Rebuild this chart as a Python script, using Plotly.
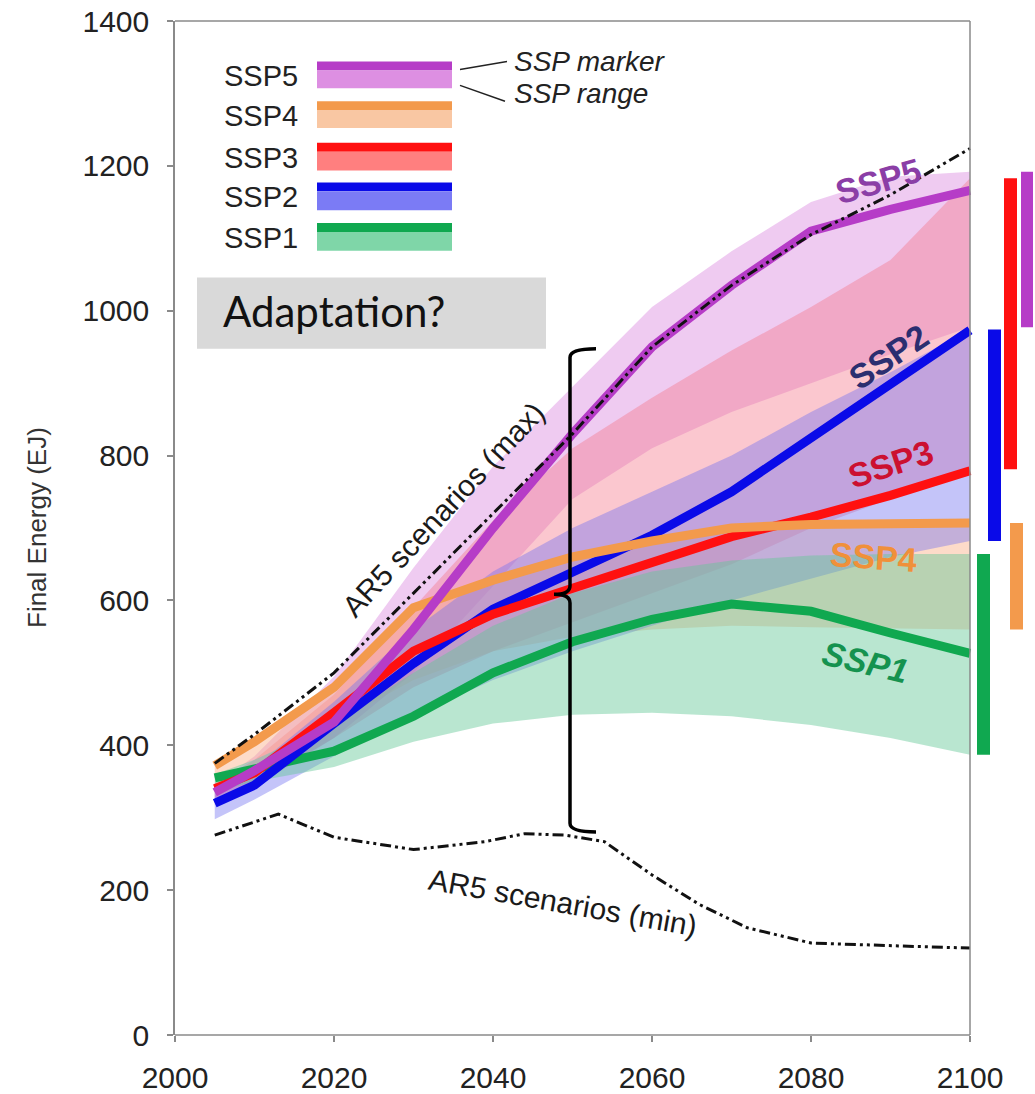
import plotly.graph_objects as go

# ---------------- data (EJ) ----------------
years = [2005, 2010, 2020, 2030, 2040, 2050, 2060, 2070, 2080, 2090, 2100]

ssp1_marker = [355, 368, 392, 440, 500, 543, 574, 595, 585, 555, 527]
ssp2_marker = [320, 345, 430, 513, 588, 640, 690, 750, 825, 900, 973]
ssp3_marker = [340, 362, 445, 530, 581, 617, 650, 688, 715, 745, 779]
ssp4_marker = [372, 405, 480, 590, 628, 660, 682, 700, 705, 706, 707]
ssp5_marker = [335, 365, 432, 560, 700, 830, 950, 1035, 1110, 1140, 1166]

ssp1_low = [335, 350, 370, 405, 430, 442, 445, 440, 428, 410, 387]
ssp1_high = [360, 380, 430, 500, 565, 610, 640, 655, 662, 664, 664]
ssp2_low = [298, 325, 385, 440, 490, 530, 565, 600, 630, 660, 682]
ssp2_high = [335, 370, 460, 560, 640, 700, 750, 800, 860, 915, 974]
ssp3_low = [325, 345, 410, 480, 530, 570, 610, 650, 700, 740, 781]
ssp3_high = [348, 380, 470, 590, 710, 810, 880, 945, 1005, 1070, 1183]
ssp4_low = [355, 380, 430, 490, 530, 550, 560, 565, 563, 561, 560]
ssp4_high = [375, 410, 485, 595, 635, 665, 688, 703, 707, 707, 707]
ssp5_low = [318, 342, 410, 500, 620, 740, 810, 860, 900, 940, 977]
ssp5_high = [345, 385, 495, 645, 785, 895, 1005, 1082, 1150, 1185, 1192]

ar5_max_years = [2005, 2010, 2020, 2030, 2040, 2050, 2060, 2070, 2080, 2090, 2100]
ar5_max = [375, 415, 500, 610, 720, 830, 950, 1035, 1105, 1160, 1224]
ar5_min_years = [2005, 2013, 2020, 2030, 2039, 2044, 2049, 2054, 2060, 2066, 2072, 2080, 2091, 2100]
ar5_min = [276, 305, 273, 256, 267, 278, 276, 267, 221, 180, 148, 127, 123, 120]

x_ticks = [2000, 2020, 2040, 2060, 2080, 2100]
y_ticks = [0, 200, 400, 600, 800, 1000, 1200, 1400]

scenario_names = ["SSP5", "SSP4", "SSP3", "SSP2", "SSP1"]

# ---------------- styling ----------------
W, H = 1035, 1094
ML, MT, MB = 175, 21, 49
PX_PER_YEAR = 7.95
X_MAX = 2000 + (W - ML) / PX_PER_YEAR
Y_MAX = 1400
PLOT_H = H - MT - MB


def dx(px):
    return 2000 + (px - ML) / PX_PER_YEAR


def dy(py):
    return (H - MB - py) * Y_MAX / PLOT_H


FONT = "Arial, Liberation Sans, sans-serif"
line_col = {"SSP1": "#10a850", "SSP2": "#0a0ae8", "SSP3": "#ff1010",
            "SSP4": "#f39a4c", "SSP5": "#b63cc7"}
band_col = {"SSP1": "rgba(100,200,150,0.45)", "SSP2": "rgba(115,115,240,0.42)",
            "SSP3": "rgba(245,115,135,0.40)", "SSP4": "rgba(250,175,135,0.45)",
            "SSP5": "rgba(220,140,225,0.45)"}
legend_range_col = {"SSP1": "#7fd6a8", "SSP2": "#7b7bf5", "SSP3": "#ff7f7f",
                    "SSP4": "#f9c7a3", "SSP5": "#dd8fe2"}

markers = {"SSP1": ssp1_marker, "SSP2": ssp2_marker, "SSP3": ssp3_marker,
           "SSP4": ssp4_marker, "SSP5": ssp5_marker}
lows = {"SSP1": ssp1_low, "SSP2": ssp2_low, "SSP3": ssp3_low,
        "SSP4": ssp4_low, "SSP5": ssp5_low}
highs = {"SSP1": ssp1_high, "SSP2": ssp2_high, "SSP3": ssp3_high,
         "SSP4": ssp4_high, "SSP5": ssp5_high}

fig = go.Figure()

# ranges (bands)
for s in ["SSP5", "SSP3", "SSP4", "SSP2", "SSP1"]:
    fig.add_trace(go.Scatter(
        x=years + years[::-1], y=highs[s] + lows[s][::-1],
        fill="toself", fillcolor=band_col[s], mode="lines",
        line=dict(width=0), hoverinfo="skip", showlegend=False))

# marker lines
for s in ["SSP1", "SSP2", "SSP3", "SSP4", "SSP5"]:
    fig.add_trace(go.Scatter(
        x=years, y=markers[s], mode="lines",
        line=dict(color=line_col[s], width=9), hoverinfo="skip", showlegend=False))

# AR5 envelopes
dash = "11px,4px,3px,4px,3px,4px"
fig.add_trace(go.Scatter(x=ar5_max_years, y=ar5_max, mode="lines",
                         line=dict(color="#111111", width=3, dash=dash),
                         hoverinfo="skip", showlegend=False))
fig.add_trace(go.Scatter(x=ar5_min_years, y=ar5_min, mode="lines",
                         line=dict(color="#111111", width=3, dash=dash),
                         hoverinfo="skip", showlegend=False))

shapes = []
# 2100 range bars to the right of the frame
bar_px = {"SSP1": (977, 990), "SSP2": (988, 1001), "SSP3": (1004, 1017),
          "SSP4": (1010, 1023), "SSP5": (1021, 1033)}
for s, (p0, p1) in bar_px.items():
    shapes.append(dict(type="rect", xref="x", yref="y", x0=dx(p0), x1=dx(p1),
                       y0=lows[s][-1], y1=highs[s][-1],
                       fillcolor=line_col[s], line=dict(width=0), layer="above"))

# frame (bottom, top, right) ending at 2100
frame = dict(color="#8a8a8a", width=1.5)
shapes.append(dict(type="line", xref="x", yref="paper", x0=2000, x1=2100, y0=0, y1=0, line=frame))
shapes.append(dict(type="line", xref="x", yref="paper", x0=2000, x1=2100, y0=1, y1=1, line=frame))
shapes.append(dict(type="line", xref="x", yref="paper", x0=2100, x1=2100, y0=0, y1=1, line=frame))

# legend swatches
sw_x0, sw_x1 = dx(317), dx(452)
sw_rows = [(62, 71, 89), (102, 111, 129), (144, 153, 172), (184, 193, 212), (225, 234, 253)]
for s, (t, m, b) in zip(scenario_names, sw_rows):
    shapes.append(dict(type="rect", xref="x", yref="y", x0=sw_x0, x1=sw_x1,
                       y0=dy(m), y1=dy(t), fillcolor=line_col[s], line=dict(width=0), layer="above"))
    shapes.append(dict(type="rect", xref="x", yref="y", x0=sw_x0, x1=sw_x1,
                       y0=dy(b), y1=dy(m), fillcolor=legend_range_col[s], line=dict(width=0), layer="above"))
# connector lines to marker/range explanation
shapes.append(dict(type="line", xref="x", yref="y", x0=dx(460), y0=dy(70), x1=dx(507), y1=dy(62),
                   line=dict(color="#222", width=1.5), layer="above"))
shapes.append(dict(type="line", xref="x", yref="y", x0=dx(460), y0=dy(86), x1=dx(505), y1=dy(102),
                   line=dict(color="#222", width=1.5), layer="above"))

# Adaptation box
shapes.append(dict(type="rect", xref="x", yref="y", x0=dx(197), x1=dx(546), y0=dy(352), y1=dy(280),
                   fillcolor="#d9d9d9", line=dict(width=0), layer="above"))

# bracket
bx, bstub, bcusp = dx(570), dx(596), dx(554)
btop, bmid, bbot = dy(352), dy(600), dy(840)
r = 12
path = (f"M {bstub},{btop} Q {bx},{btop} {bx},{btop - r} "
        f"L {bx},{bmid + r} Q {bx},{bmid} {bcusp},{bmid} "
        f"Q {bx},{bmid} {bx},{bmid - r} "
        f"L {bx},{bbot + r} Q {bx},{bbot} {bstub},{bbot}")
shapes.append(dict(type="path", xref="x", yref="y", path=path,
                   line=dict(color="#000", width=3.5), layer="above"))

ann = []
# legend labels
for s, (t, m, b) in zip(scenario_names, sw_rows):
    ann.append(dict(x=dx(222), y=dy((t + b) / 2 + 1), xref="x", yref="y", text=s,
                    showarrow=False, xanchor="left", yanchor="middle",
                    font=dict(family=FONT, size=29, color="#222")))
ann.append(dict(x=dx(512), y=dy(62), xref="x", yref="y", text="SSP marker", showarrow=False,
                xanchor="left", yanchor="middle",
                font=dict(family=FONT, size=28, color="#222", style="italic")))
ann.append(dict(x=dx(512), y=dy(94), xref="x", yref="y", text="SSP range", showarrow=False,
                xanchor="left", yanchor="middle",
                font=dict(family=FONT, size=28, color="#222", style="italic")))
ann.append(dict(x=dx(221), y=dy(314), xref="x", yref="y", text="Adaptation?", showarrow=False,
                xanchor="left", yanchor="middle",
                font=dict(family="Lato, Open Sans, sans-serif", size=42, color="#111")))

# scenario labels on chart
chart_labels = [
    ("SSP5", 878, 183, -16, "#8b3ea6", "normal"),
    ("SSP2", 888, 360, -34, "#2b2e70", "normal"),
    ("SSP3", 890, 468, -18, "#cc1030", "normal"),
    ("SSP4", 873, 562, 4, "#f0903a", "normal"),
    ("SSP1", 865, 668, 13, "#15924f", "italic"),
]
for s, px, py, ang, col, sty in chart_labels:
    ann.append(dict(x=dx(px), y=dy(py), xref="x", yref="y", text=s, showarrow=False,
                    textangle=ang, xanchor="center", yanchor="middle",
                    font=dict(family=FONT, size=34, color=col, weight="bold", style=sty)))

ann.append(dict(x=dx(443), y=dy(514), xref="x", yref="y", text="AR5 scenarios (max)",
                showarrow=False, textangle=-47, xanchor="center", yanchor="middle",
                font=dict(family=FONT, size=30, color="#1a1a1a")))
ann.append(dict(x=dx(563), y=dy(911), xref="x", yref="y", text="AR5 scenarios (min)",
                showarrow=False, textangle=10, xanchor="center", yanchor="middle",
                font=dict(family=FONT, size=30, color="#1a1a1a")))

# y-axis title
ann.append(dict(x=(37 - ML) / (W - ML), y=0.5, xref="paper", yref="paper",
                text="Final Energy (EJ)", showarrow=False, textangle=-90,
                xanchor="center", yanchor="middle",
                font=dict(family=FONT, size=26, color="#333")))

fig.update_layout(
    width=W, height=H,
    margin=dict(l=ML, r=0, t=MT, b=MB, pad=0),
    paper_bgcolor="white", plot_bgcolor="white",
    showlegend=False,
    shapes=shapes, annotations=ann,
    xaxis=dict(range=[2000, X_MAX], tickvals=x_ticks, ticktext=[str(v) for v in x_ticks],
               showgrid=False, zeroline=False, showline=False,
               ticks="outside", ticklen=6, tickwidth=1.5, tickcolor="#8a8a8a",
               ticklabelstandoff=10,
               tickfont=dict(family=FONT, size=30, color="#222")),
    yaxis=dict(range=[0, Y_MAX], tickvals=y_ticks, showgrid=False, zeroline=False,
               showline=True, linecolor="#8a8a8a", linewidth=1.5,
               ticks="outside", ticklen=6, tickwidth=1.5, tickcolor="#8a8a8a",
               ticklabelstandoff=12,
               tickfont=dict(family=FONT, size=30, color="#222")),
)

fig.write_html("out.html", config={"displayModeBar": False},
               post_script="document.body.style.margin='0px';")
